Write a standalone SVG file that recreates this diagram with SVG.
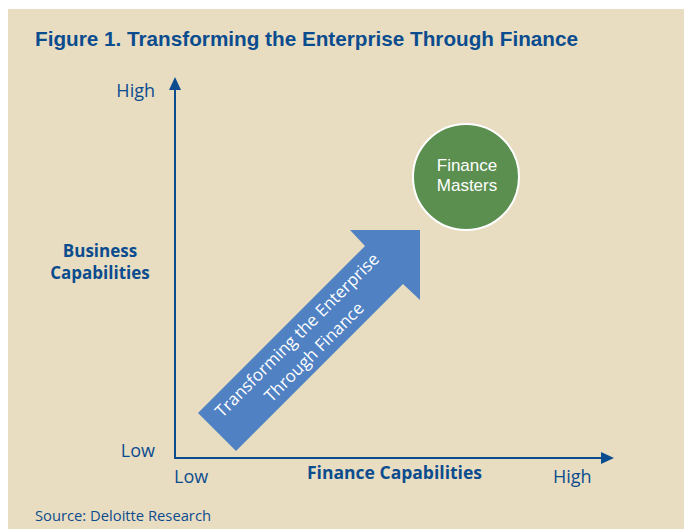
<svg xmlns="http://www.w3.org/2000/svg" width="684" height="529" viewBox="0 0 684 529">
  <style>
    .lbl { font-family: "Open Sans", "Liberation Sans", sans-serif; fill: #0B4C8F; }
    .b { font-weight: bold; }
    .w { font-family: "Open Sans", "Liberation Sans", sans-serif; fill: #FFFFFF; }
    .wc { font-family: "Liberation Sans", sans-serif; fill: #FFFFFF; }
    .axis { stroke: #0B4C8F; stroke-width: 2; fill: none; }
  </style>
  <rect x="0" y="0" width="684" height="529" fill="#FFFFFF"/>
  <rect x="8" y="9" width="676" height="520" fill="#E8DDC1"/>
  <text class="lbl b" x="35" y="46" font-size="20.5" textLength="543" lengthAdjust="spacingAndGlyphs" style="font-family:'Liberation Sans', sans-serif">Figure 1. Transforming the Enterprise Through Finance</text>

  <g id="connectors">
    <line class="axis" x1="175" y1="458" x2="175" y2="88"/>
    <polygon points="175,77 169,90 181,90" fill="#0B4C8F"/>
    <line class="axis" x1="174" y1="458" x2="602" y2="458"/>
    <polygon points="614,458 601,452 601,464" fill="#0B4C8F"/>
  </g>

  <g id="y-labels">
    <text class="lbl" x="155" y="97" font-size="18" text-anchor="end">High</text>
    <text class="lbl" x="155" y="457" font-size="18" text-anchor="end">Low</text>
    <text class="lbl b" x="100" y="257" font-size="17" text-anchor="middle">Business</text>
    <text class="lbl b" x="100" y="279" font-size="17" text-anchor="middle">Capabilities</text>
  </g>

  <g id="x-labels">
    <text class="lbl" x="174" y="483" font-size="18">Low</text>
    <text class="lbl b" x="307" y="479" font-size="17.5" textLength="175" lengthAdjust="spacingAndGlyphs">Finance Capabilities</text>
    <text class="lbl" x="553" y="483" font-size="18">High</text>
  </g>

  <g id="transform-arrow">
    <polygon points="198,413 365,246 350,230 420,230 420,300 403,284 236,451" fill="#4F81C3"/>
    <g transform="translate(305.5,343.5) rotate(-45)">
      <text class="w" x="0" y="-6" font-size="17" text-anchor="middle">Transforming the Enterprise</text>
      <text class="w" x="0" y="18" font-size="17" text-anchor="middle">Through Finance</text>
    </g>
  </g>

  <g id="finance-masters">
    <circle cx="466" cy="177" r="53" fill="#5A8F50" stroke="#FFFFFF" stroke-width="2"/>
    <text class="wc" x="467" y="171" font-size="17" text-anchor="middle">Finance</text>
    <text class="wc" x="467" y="191" font-size="17" text-anchor="middle">Masters</text>
  </g>

  <text class="lbl" x="35" y="521" font-size="15" textLength="176" lengthAdjust="spacingAndGlyphs">Source: Deloitte Research</text>
</svg>
